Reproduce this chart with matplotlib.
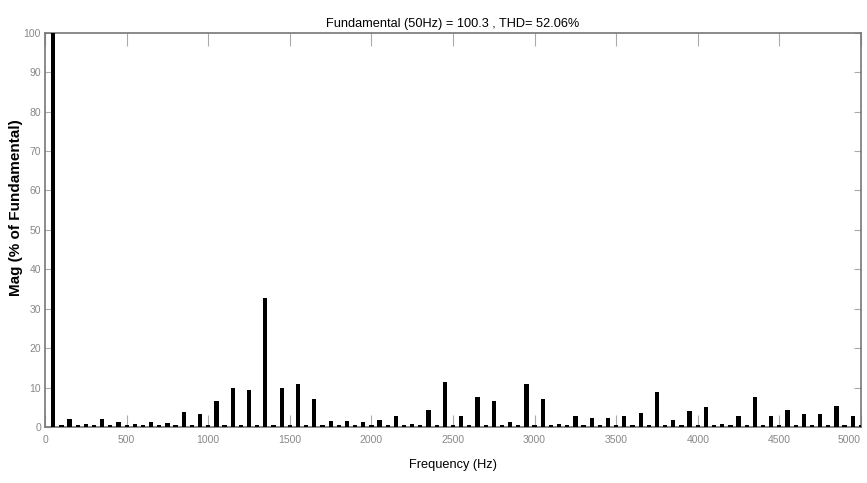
import numpy as np
import matplotlib
matplotlib.use("Agg")
import matplotlib.pyplot as plt

# Harmonic spectrum, 50 Hz fundamental
odd_freq = [50, 150, 250, 350, 450, 550, 650, 750, 850, 950,
            1050, 1150, 1250, 1350, 1450, 1550, 1650, 1750, 1850, 1950,
            2050, 2150, 2250, 2350, 2450, 2550, 2650, 2750, 2850, 2950,
            3050, 3150, 3250, 3350, 3450, 3550, 3650, 3750, 3850, 3950,
            4050, 4150, 4250, 4350, 4450, 4550, 4650, 4750, 4850, 4950]
odd_mag = [100, 2.1, 0.8, 2.1, 1.2, 0.8, 1.3, 1.1, 3.8, 3.3,
           6.5, 9.8, 9.4, 32.8, 9.8, 10.9, 7.1, 1.4, 1.4, 1.2,
           1.8, 2.7, 0.8, 4.4, 11.3, 2.7, 7.5, 6.5, 1.2, 10.8,
           7.1, 0.7, 2.7, 2.4, 2.4, 2.7, 3.5, 8.9, 1.7, 4.1,
           5.0, 0.8, 2.7, 7.7, 2.9, 4.4, 3.3, 3.3, 5.4, 2.9]

even_freq = [100, 200, 300, 400, 500, 600, 700, 800, 900, 1000,
             1100, 1200, 1300, 1400, 1500, 1600, 1700, 1800, 1900, 2000,
             2100, 2200, 2300, 2400, 2500, 2600, 2700, 2800, 2900, 3000,
             3100, 3200, 3300, 3400, 3500, 3600, 3700, 3800, 3900, 4000,
             4100, 4200, 4300, 4400, 4500, 4600, 4700, 4800, 4900, 5000]
even_mag = [0.4, 0.4, 0.4, 0.4, 0.4, 0.4, 0.4, 0.4, 0.4, 0.4,
            0.4, 0.4, 0.4, 0.4, 0.4, 0.4, 0.4, 0.4, 0.4, 0.4,
            0.4, 0.4, 0.4, 0.4, 0.4, 0.4, 0.4, 0.4, 0.4, 0.4,
            0.4, 0.4, 0.4, 0.4, 0.4, 0.4, 0.4, 0.4, 0.4, 0.4,
            0.4, 0.4, 0.4, 0.4, 0.4, 0.4, 0.4, 0.4, 0.4, 0.4]

x_ticks = [0, 500, 1000, 1500, 2000, 2500, 3000, 3500, 4000, 4500, 5000]
y_ticks = [0, 10, 20, 30, 40, 50, 60, 70, 80, 90, 100]

title = "Fundamental (50Hz) = 100.3 , THD= 52.06%"

plt.rcParams['font.family'] = ['Liberation Sans', 'DejaVu Sans']

fig = plt.figure(figsize=(8.67, 4.83), dpi=100)
ax = fig.add_axes([0.052, 0.116, 0.941, 0.816])

ax.bar(odd_freq, odd_mag, width=26, color='black', zorder=3)
ax.bar(even_freq, even_mag, width=26, color='black', zorder=3)

ax.set_xlim(0, 5000)
ax.set_ylim(0, 100)
ax.set_xticks(x_ticks)
ax.set_yticks(y_ticks)

ax.tick_params(axis='x', direction='in', length=9, width=0.8, color='#aaaaaa',
               top=True, labelsize=7.5, labelcolor='#888888', pad=6)
ax.tick_params(axis='y', direction='in', length=5, width=0.8, color='#aaaaaa',
               right=True, labelsize=7.5, labelcolor='#888888', pad=3)
# last x label would run past the figure edge; keep it inside
ax.get_xticklabels()[-1].set_horizontalalignment('right')
for s in ax.spines.values():
    s.set_color('#777777')
    s.set_linewidth(1.2)

ax.set_title(title, fontsize=9.2, pad=4)
ax.set_xlabel('Frequency (Hz)', fontsize=9.2, labelpad=10)
ax.set_ylabel('Mag (% of Fundamental)', fontsize=11, fontweight='bold')
ax.yaxis.set_label_coords(-0.027, 0.556)

fig.savefig('out.png', dpi=100)
